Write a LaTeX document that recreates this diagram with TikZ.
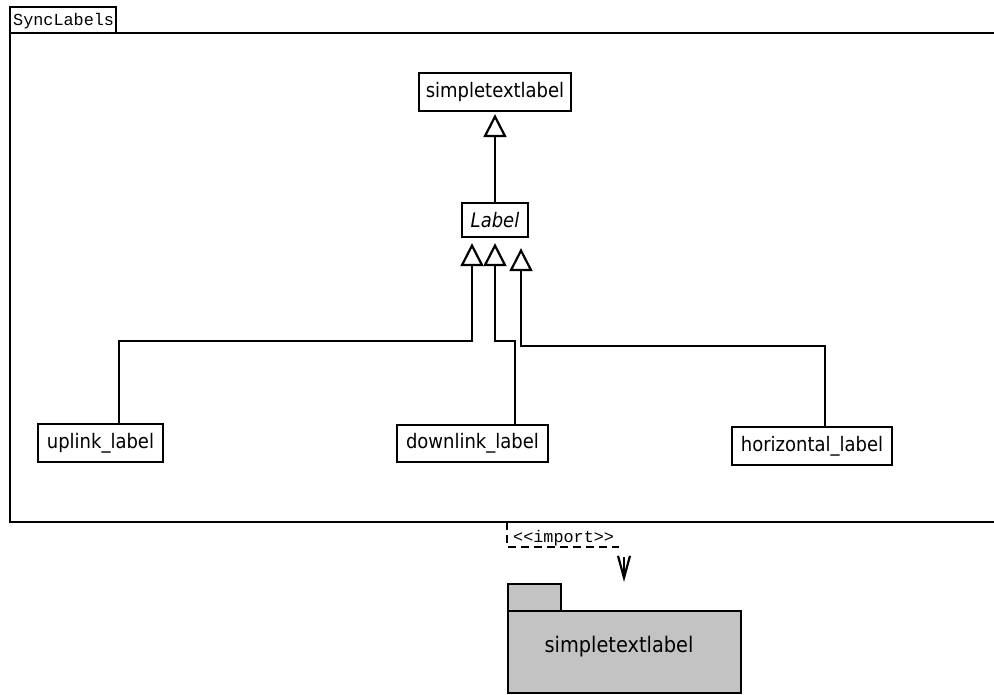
\documentclass[tikz,border=0pt]{standalone}
\usepackage{fontspec}
\usetikzlibrary{arrows.meta}
\newfontfamily\umlfont{DejaVu Sans Condensed}
\newfontfamily\umlmono{Liberation Mono}
\definecolor{pkggray}{RGB}{195,195,195}
\tikzset{
  classbox/.style={draw=black, line width=2.3pt, fill=white, inner sep=0pt,
    minimum height=38pt, font=\umlfont\fontsize{20}{22}\selectfont},
  gen/.style={line width=2.2pt, -{Triangle[open, length=23pt, width=23pt, line width=2.2pt]}},
  framepen/.style={line width=2.8pt},
  importpen/.style={line width=2.2pt, dash pattern=on 8pt off 5pt},
  monotext/.style={font=\umlmono\fontsize{16.8}{18}\selectfont, inner sep=0pt},
}
\begin{document}
\begin{tikzpicture}[x=1pt, y=-1pt]
\useasboundingbox (0,0) rectangle (994,695);

% package frame with name tab (open on the right)
\draw[framepen] (994,33) -- (10,33) -- (10,522) -- (994,522);
\draw[framepen] (10,33) rectangle (116,7);
\node[monotext, anchor=west] (frametitle) at (13,21) {SyncLabels};

% classes
\node[classbox, minimum width=152pt] (base) at (495,92) {simpletextlabel};
\node[classbox, minimum width=66pt, minimum height=34pt] (label) at (495,220) {\itshape Label};
\node[classbox, minimum width=125pt] (uplink) at (100.5,443) {uplink\_label};
\node[classbox, minimum width=151pt, minimum height=37pt] (downlink) at (472.5,443.5) {downlink\_label};
\node[classbox, minimum width=160pt] (horiz) at (812,446) {horizontal\_label};

% generalisations
\draw[gen, shorten >=2pt] (label.north) -- (base.south);
\draw[gen, shorten >=5pt] ([xshift=18.5pt]uplink.north) |- (472,341) -- (label.south -| 472,0);
\draw[gen, shorten >=5pt] ([xshift=42.5pt]downlink.north) |- (495,341) -- (label.south);
\draw[gen, shorten >=10pt] ([xshift=13pt]horiz.north) |- (521,346) -- (label.south -| 521,0);

% imported package
\draw[line width=2.2pt, fill=pkggray] (508,611) rectangle (561,584);
\draw[line width=2.2pt, fill=pkggray] (508,611) rectangle (741,693);
\node[font=\umlfont\fontsize{21.5}{24}\selectfont, inner sep=0pt] (pkgname) at (619,647) {simpletextlabel};

% import dependency
\coordinate (impstart) at (507,522);
\coordinate (impcorner) at (507,547);
\coordinate (impend) at (619,547);
\draw[importpen] (impstart) -- (impcorner) -- (impend);
\node[monotext, anchor=south west] (imptext) at (513,546) {<<import>>};
\coordinate (arrtop) at (624,557);
\coordinate (arrtip) at (624,582);
\draw[line width=2.2pt, -{Straight Barb[length=22pt, width=12pt, line width=2.2pt]}] (arrtop) -- (arrtip);
\end{tikzpicture}
\end{document}
